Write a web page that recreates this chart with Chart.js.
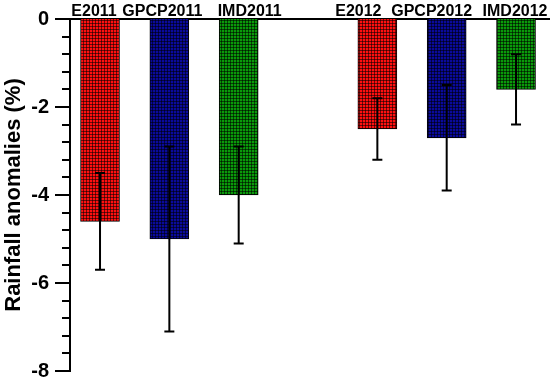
<!DOCTYPE html>
<html>
<head>
<meta charset="utf-8">
<script src="https://cdn.jsdelivr.net/npm/chart.js@4"></script>
<style>
  html, body { margin: 0; padding: 0; background: #fff; }
  #wrap { width: 550px; height: 379px; }
</style>
</head>
<body>
<div id="wrap"><canvas id="barChart"></canvas></div>
<script>
// Rainfall anomaly bars, 2011 and 2012 (empty slot between the two years)
const categories = ['E2011', 'GPCP2011', 'IMD2011', '', 'E2012', 'GPCP2012', 'IMD2012'];
const anomalies = [-4.6, -5.0, -4.0, null, -2.5, -2.7, -1.6];
const errors = [1.1, 2.1, 1.1, null, 0.7, 1.2, 0.8];
const tickLabels = [0, -2, -4, -6, -8];

// styling
const fillColors = ['#ff1010', '#0a0a9c', '#0a9a0a', null, '#ff1010', '#0a0a9c', '#0a9a0a'];
const labelNudge = [-6, -7, 11, 0, -19, -15, -1]; // px, the original labels are hand placed

// small square grid fill like the original hatch
function gridPattern(color) {
  const c = document.createElement('canvas');
  c.width = 3; c.height = 3;
  const g = c.getContext('2d');
  g.fillStyle = color;
  g.fillRect(0, 0, 3, 3);
  g.fillStyle = 'rgba(0,0,0,0.55)';
  g.fillRect(2, 0, 1, 3);
  g.fillRect(0, 2, 3, 1);
  return g.createPattern(c, 'repeat');
}

const points = [];
const fills = [];
categories.forEach((name, i) => {
  if (anomalies[i] === null) return;
  points.push({ x: i, y: anomalies[i], err: errors[i] });
  fills.push(gridPattern(fillColors[i]));
});

// error bars, tick marks (long at labels, short between), category names on top
const extras = {
  id: 'extras',
  afterDatasetsDraw(chart) {
    const ctx = chart.ctx;
    const x = chart.scales.x;
    const y = chart.scales.y;
    const meta = chart.getDatasetMeta(0);
    ctx.save();
    ctx.strokeStyle = '#000';
    ctx.lineWidth = 2;
    meta.data.forEach((bar, i) => {
      const p = points[i];
      const top = y.getPixelForValue(p.y + p.err);
      const bot = y.getPixelForValue(p.y - p.err);
      ctx.beginPath();
      ctx.moveTo(bar.x, top); ctx.lineTo(bar.x, bot);
      ctx.moveTo(bar.x - 5, top); ctx.lineTo(bar.x + 5, top);
      ctx.moveTo(bar.x - 5, bot); ctx.lineTo(bar.x + 5, bot);
      ctx.stroke();
    });
    const x0 = y.right;
    y.ticks.forEach(t => {
      const py = Math.round(y.getPixelForValue(t.value));
      const major = tickLabels.some(v => Math.abs(v - t.value) < 1e-6);
      ctx.beginPath();
      ctx.moveTo(x0 - (major ? 15 : 8), py);
      ctx.lineTo(x0, py);
      ctx.stroke();
    });
    ctx.fillStyle = '#000';
    ctx.font = 'bold 16px "Liberation Sans", Arial, sans-serif';
    ctx.textAlign = 'center';
    ctx.textBaseline = 'alphabetic';
    categories.forEach((name, i) => {
      if (!name) return;
      ctx.fillText(name, x.getPixelForValue(i) + labelNudge[i], 16);
    });
    ctx.restore();
  }
};

const ctx = document.getElementById('barChart').getContext('2d');

new Chart(ctx, {
  type: 'bar',
  data: {
    datasets: [{
      data: points,
      backgroundColor: fills,
      borderColor: '#000',
      borderWidth: 1,
      barThickness: 39,
    }]
  },
  options: {
    responsive: true,
    maintainAspectRatio: false,
    animation: false,
    layout: { padding: { top: 0, right: 0, bottom: 8, left: 0 } },
    plugins: {
      legend: { display: false },
      tooltip: { enabled: false },
    },
    scales: {
      x: {
        type: 'linear',
        position: 'top',
        offset: false,
        min: -0.433,
        max: 6.49,
        afterFit: (scale) => { scale.height = 19; },
        grid: { display: false, drawTicks: false },
        border: { display: true, color: '#000', width: 2 },
        ticks: { display: false },
      },
      y: {
        min: -8,
        max: 0,
        afterFit: (scale) => {
          scale.width = 70;
          scale.paddingTop = 0;
          scale.paddingBottom = 0;
        },
        grid: { display: false, drawTicks: true, tickLength: 15 },
        border: { display: true, color: '#000', width: 2 },
        ticks: {
          stepSize: 0.4,
          autoSkip: false,
          padding: 6,
          color: '#000',
          font: { family: 'Liberation Sans', size: 20, weight: 'bold' },
          callback: (v) => {
            const hit = tickLabels.find(t => Math.abs(t - v) < 1e-6);
            return hit === undefined ? '' : String(hit);
          },
        },
        title: {
          display: true,
          text: 'Rainfall anomalies (%)',
          color: '#000',
          padding: { top: 1, bottom: 2 },
          font: { family: 'Liberation Sans', size: 22, weight: 'bold' },
        },
      },
    },
  },
  plugins: [extras],
});
</script>
</body>
</html>
